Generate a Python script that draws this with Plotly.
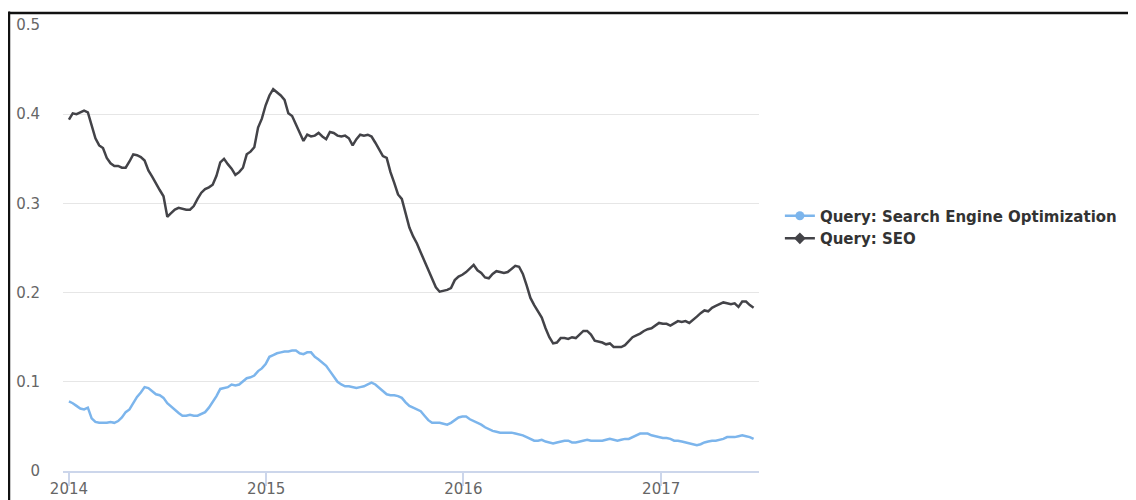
import pandas as pd
import plotly.graph_objects as go

# Weekly dates starting 2014-01-01
start_date = "2014-01-01"
n_weeks = 182
dates = pd.date_range(start_date, periods=n_weeks, freq="7D")

series_names = ["Query: Search Engine Optimization", "Query: SEO"]
series_colors = ["#7cb5ec", "#434348"]
legend_symbols = ["circle", "diamond"]

seo_query = [
    0.394, 0.401, 0.400, 0.402, 0.404, 0.402, 0.386, 0.373, 0.365, 0.362,
    0.351, 0.345, 0.342, 0.342, 0.340, 0.340, 0.347, 0.355, 0.354, 0.352,
    0.348, 0.337, 0.330, 0.322, 0.315, 0.308, 0.285, 0.289, 0.293, 0.295,
    0.294, 0.293, 0.293, 0.297, 0.305, 0.312, 0.316, 0.318, 0.321, 0.331,
    0.346, 0.350, 0.344, 0.339, 0.332, 0.335, 0.340, 0.355, 0.358, 0.363,
    0.385, 0.395, 0.410, 0.421, 0.428, 0.425, 0.421, 0.416, 0.401, 0.398,
    0.389, 0.379, 0.370, 0.377, 0.375, 0.376, 0.379, 0.375, 0.372, 0.380,
    0.379, 0.376, 0.375, 0.376, 0.373, 0.365, 0.372, 0.377, 0.376, 0.377,
    0.375, 0.368, 0.360, 0.353, 0.351, 0.335, 0.323, 0.310, 0.305, 0.288,
    0.273, 0.263, 0.255, 0.245, 0.235, 0.225, 0.215, 0.206, 0.201, 0.202,
    0.203, 0.205, 0.214, 0.218, 0.220, 0.223, 0.227, 0.231, 0.225, 0.222,
    0.217, 0.216, 0.221, 0.224, 0.223, 0.222, 0.223, 0.227, 0.230, 0.229,
    0.221, 0.208, 0.194, 0.186, 0.179, 0.172, 0.160, 0.150, 0.143, 0.144,
    0.149, 0.149, 0.148, 0.150, 0.149, 0.153, 0.157, 0.157, 0.153, 0.146,
    0.145, 0.144, 0.142, 0.143, 0.139, 0.139, 0.139, 0.141, 0.146, 0.150,
    0.152, 0.154, 0.157, 0.159, 0.160, 0.163, 0.166, 0.165, 0.165, 0.163,
    0.166, 0.168, 0.167, 0.168, 0.166, 0.169, 0.173, 0.177, 0.180, 0.179,
    0.183, 0.185, 0.187, 0.189, 0.188, 0.187, 0.188, 0.184, 0.190, 0.190,
    0.186, 0.183,
]

seo_full_query = [
    0.078, 0.076, 0.073, 0.070, 0.069, 0.071, 0.059, 0.055, 0.054, 0.054,
    0.054, 0.055, 0.054, 0.056, 0.060, 0.066, 0.069, 0.076, 0.083, 0.088,
    0.094, 0.093, 0.090, 0.086, 0.085, 0.082, 0.076, 0.072, 0.069, 0.065,
    0.062, 0.062, 0.063, 0.062, 0.062, 0.064, 0.066, 0.071, 0.077, 0.084,
    0.092, 0.093, 0.094, 0.097, 0.096, 0.097, 0.100, 0.104, 0.105, 0.107,
    0.112, 0.115, 0.120, 0.128, 0.130, 0.132, 0.133, 0.134, 0.134, 0.135,
    0.135, 0.132, 0.131, 0.133, 0.133, 0.128, 0.125, 0.122, 0.118, 0.112,
    0.106, 0.100, 0.097, 0.095, 0.095, 0.094, 0.093, 0.094, 0.095, 0.097,
    0.099, 0.097, 0.093, 0.090, 0.086, 0.085, 0.085, 0.084, 0.082, 0.077,
    0.073, 0.071, 0.069, 0.067, 0.062, 0.057, 0.054, 0.054, 0.054, 0.053,
    0.052, 0.054, 0.057, 0.060, 0.061, 0.061, 0.058, 0.056, 0.054, 0.052,
    0.049, 0.047, 0.045, 0.044, 0.043, 0.043, 0.043, 0.043, 0.042, 0.041,
    0.040, 0.038, 0.036, 0.034, 0.034, 0.035, 0.033, 0.032, 0.031, 0.032,
    0.033, 0.034, 0.034, 0.032, 0.032, 0.033, 0.034, 0.035, 0.034, 0.034,
    0.034, 0.034, 0.035, 0.036, 0.035, 0.034, 0.035, 0.036, 0.036, 0.038,
    0.040, 0.042, 0.042, 0.042, 0.040, 0.039, 0.038, 0.037, 0.037, 0.036,
    0.034, 0.034, 0.033, 0.032, 0.031, 0.030, 0.029, 0.030, 0.032, 0.033,
    0.034, 0.034, 0.035, 0.036, 0.038, 0.038, 0.038, 0.039, 0.040, 0.039,
    0.038, 0.036,
]

year_ticks = ["2014-01-01", "2015-01-01", "2016-01-01", "2017-01-01"]
year_labels = ["2014", "2015", "2016", "2017"]
y_ticks = [0, 0.1, 0.2, 0.3, 0.4, 0.5]
y_labels = ["0", "0.1", "0.2", "0.3", "0.4", "0.5"]

FONT = "DejaVu Sans"

fig = go.Figure()
for name, color, vals in zip(series_names, series_colors, [seo_full_query, seo_query]):
    fig.add_trace(go.Scatter(
        x=dates, y=vals, mode="lines", name=name, showlegend=False,
        line=dict(color=color, width=2.5),
    ))
# legend entries (line + marker symbol, Highcharts style)
for name, color, sym in zip(series_names, series_colors, legend_symbols):
    fig.add_trace(go.Scatter(
        x=[None], y=[None], mode="lines+markers", name=name,
        line=dict(color=color, width=2.5),
        marker=dict(color=color, size=9, symbol=sym),
    ))

fig.update_layout(
    width=1128, height=492,
    margin=dict(l=55, r=377, t=17, b=29, autoexpand=False),
    paper_bgcolor="white", plot_bgcolor="white",
    font=dict(family=FONT, size=15, color="#666666"),
    legend=dict(
        x=1.03, xanchor="left", y=0.547, yanchor="middle",
        orientation="v", tracegroupgap=0,
        font=dict(family=FONT, size=15, color="#333333", weight="bold"),
        bgcolor="rgba(0,0,0,0)",
    ),
    xaxis=dict(
        type="date", automargin=False,
        range=["2013-12-21", "2017-07-01"],
        tickvals=year_ticks, ticktext=year_labels,
        showgrid=False, zeroline=False,
        showline=True, linecolor="#ccd6eb", linewidth=1.5,
        ticks="outside", ticklen=13, tickcolor="#ccd6eb", tickwidth=1.5,
        ticklabelstandoff=-10,
        tickfont=dict(family=FONT, size=15, color="#666666"),
    ),
    yaxis=dict(
        range=[0, 0.5], automargin=False,
        tickvals=y_ticks, ticktext=y_labels,
        showgrid=True, gridcolor="#e6e6e6", gridwidth=1,
        zeroline=False, showline=False,
        ticks="", ticklabelstandoff=22,
        tickfont=dict(family=FONT, size=15, color="#666666"),
    ),
    shapes=[
        dict(type="line", xref="paper", yref="paper",
             x0=-0.0776, x1=-0.0776, y0=1.03, y1=-0.1,
             line=dict(color="#111111", width=2.5)),
        dict(type="line", xref="paper", yref="paper",
             x0=-0.0776, x1=1.6, y0=1.027, y1=1.027,
             line=dict(color="#111111", width=2.5)),
    ],
)

fig.write_html("out.html")
